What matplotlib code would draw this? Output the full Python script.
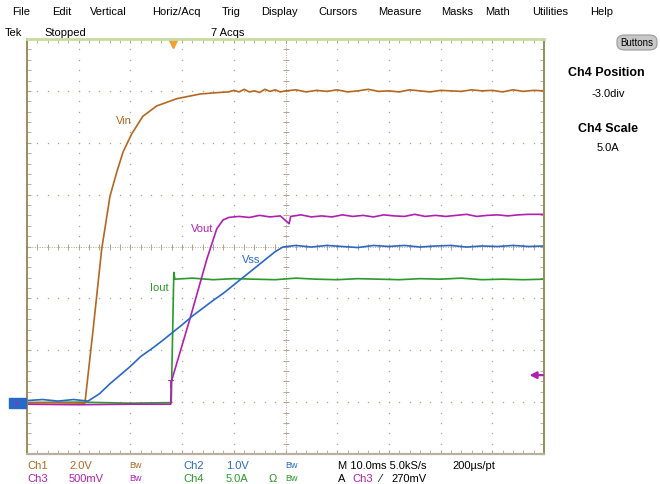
import numpy as np
import matplotlib.pyplot as plt
from matplotlib.patches import Rectangle, FancyBboxPatch

plt.rcParams['font.family'] = ['Liberation Sans', 'DejaVu Sans']

# ---- trace data, in screen divisions (x: 0..10, y: 0..8) ----
vin_x = [0, 0.5, 1.12, 1.28, 1.445, 1.605, 1.735, 1.857, 2.025, 2.24, 2.51, 2.9, 3.35, 3.73,
         3.9, 4.0, 4.1, 4.2, 4.3, 4.4, 4.5, 4.6, 4.7, 4.8, 4.9, 5.0, 5.2, 5.4, 5.6, 5.8, 6.0,
         6.2, 6.4, 6.6, 6.8, 7.0, 7.2, 7.4, 7.6, 7.8, 8.0, 8.2, 8.4, 8.6, 8.8, 9.0, 9.2, 9.4,
         9.6, 9.8, 10.0]
vin_y = [0.99, 0.99, 0.98, 2.41, 3.95, 4.97, 5.43, 5.82, 6.17, 6.51, 6.71, 6.85, 6.94, 6.97,
         6.98, 7.01, 6.98, 7.03, 6.98, 7.0, 6.97, 7.03, 6.99, 7.02, 6.98, 7.0, 7.02, 6.98,
         7.01, 6.99, 7.02, 6.98, 7.0, 7.03, 6.99, 7.0, 6.98, 7.02, 7.0, 6.98, 7.01, 7.0,
         6.99, 7.02, 7.0, 7.01, 6.98, 7.02, 6.99, 7.01, 7.0]

vss_x = [0, 0.3, 0.6, 0.9, 1.18, 1.4, 1.6, 1.8, 2.0, 2.2, 2.4, 2.6, 2.8, 3.0, 3.2, 3.4, 3.6,
         3.8, 4.0, 4.2, 4.4, 4.6, 4.8, 4.95, 5.2, 5.5, 5.8, 6.1, 6.4, 6.7, 7.0, 7.3, 7.6, 7.9,
         8.2, 8.5, 8.8, 9.1, 9.4, 9.7, 10.0]
vss_y = [1.03, 1.05, 1.02, 1.05, 1.02, 1.16, 1.35, 1.52, 1.69, 1.88, 2.02, 2.17, 2.33, 2.49,
         2.66, 2.81, 2.96, 3.10, 3.26, 3.42, 3.58, 3.74, 3.90, 3.99, 4.02, 3.99, 4.02, 4.0,
         3.98, 4.02, 4.0, 4.02, 3.99, 4.01, 4.02, 3.99, 4.01, 4.0, 4.02, 4.0, 4.01]

vout_x = [0, 1.0, 2.0, 2.78, 2.79, 3.15, 3.48, 3.67, 3.79, 3.9, 4.1, 4.3, 4.5, 4.7, 4.9, 5.07,
          5.1, 5.3, 5.5, 5.7, 5.9, 6.1, 6.3, 6.5, 6.7, 6.9, 7.1, 7.3, 7.5, 7.7, 7.9, 8.1, 8.3,
          8.5, 8.7, 8.9, 9.1, 9.3, 9.5, 9.7, 10.0]
vout_y = [0.96, 0.95, 0.96, 0.96, 1.39, 2.6, 3.76, 4.34, 4.51, 4.56, 4.58, 4.56, 4.6, 4.57,
          4.59, 4.44, 4.58, 4.61, 4.57, 4.59, 4.57, 4.61, 4.58, 4.6, 4.57, 4.61, 4.59, 4.58,
          4.62, 4.58, 4.6, 4.58, 4.6, 4.62, 4.58, 4.6, 4.61, 4.59, 4.61, 4.62, 4.62]

iout_x = [0, 1.0, 2.0, 2.79, 2.84, 2.86, 3.2, 3.6, 4.0, 4.4, 4.8, 5.2, 5.6, 6.0, 6.4, 6.8,
          7.2, 7.6, 8.0, 8.4, 8.8, 9.2, 9.6, 10.0]
iout_y = [0.99, 1.0, 0.98, 0.99, 3.5, 3.37, 3.39, 3.36, 3.38, 3.37, 3.36, 3.39, 3.37, 3.36,
          3.38, 3.37, 3.36, 3.38, 3.37, 3.39, 3.36, 3.37, 3.36, 3.37]

c1, c2, c3, c4 = '#b5661f', '#2a68c8', '#b020b0', '#2a9a2a'
grid_c = '#b0a68e'

fig = plt.figure(figsize=(6.6, 4.85), dpi=100)
ax = fig.add_axes([27 / 660, 30 / 485, 517 / 660, 415 / 485])
ax.set_xlim(0, 10)
ax.set_ylim(0, 8)

# graticule: dotted major lines, minor ticks on the frame
gx, gy = np.meshgrid(np.arange(1, 10), np.arange(0, 8.01, 0.2))
ax.plot(gx.ravel(), gy.ravel(), 's', ms=0.9, color=grid_c, mec='none')
hy, hx = np.meshgrid(np.arange(1, 8), np.arange(0, 10.01, 0.2))
ax.plot(hx.ravel(), hy.ravel(), 's', ms=0.9, color=grid_c, mec='none')
ax.plot([5, 5], [0, 8], color=grid_c, lw=0.7, ls=(0, (1, 1.5)))
ax.plot([0, 10], [4, 4], color=grid_c, lw=0.7, ls=(0, (1, 1.5)))
ax.plot(np.full(41, 5), np.arange(0, 8.01, 0.2), '_', ms=4, color=grid_c, mew=0.7)
ax.plot(np.arange(0, 10.01, 0.2), np.full(51, 4), '|', ms=4, color=grid_c, mew=0.7)

ax.set_xticks(np.arange(0, 11))
ax.set_yticks(np.arange(0, 9))
ax.set_xticks(np.arange(0, 10.01, 0.2), minor=True)
ax.set_yticks(np.arange(0, 8.01, 0.2), minor=True)
ax.tick_params(which='both', direction='in', top=True, right=True, length=3,
               color=grid_c, labelbottom=False, labelleft=False)

for s, col, lw in [('left', '#9c8a5c', 1.4), ('right', '#9c8a5c', 1.4),
                   ('top', '#c8dca0', 2.0), ('bottom', '#b8b0a0', 1.6)]:
    ax.spines[s].set_color(col)
    ax.spines[s].set_linewidth(lw)

# traces
ax.plot(iout_x, iout_y, color=c4, lw=1.2)
ax.plot(vout_x, vout_y, color=c3, lw=1.2)
ax.plot(vin_x, vin_y, color=c1, lw=1.2)
ax.plot(vss_x, vss_y, color=c2, lw=1.2)

ax.text(1.88, 6.44, 'Vin', color=c1, fontsize=8, ha='center', va='center')
ax.text(3.38, 4.35, 'Vout', color=c3, fontsize=8, ha='center', va='center')
ax.text(4.33, 3.76, 'Vss', color=c2, fontsize=8, ha='center', va='center')
ax.text(2.55, 3.22, 'Iout', color=c4, fontsize=8, ha='center', va='center')

# trigger markers
ax.text(2.78, 1.35, 'T', color=c3, fontsize=7, fontweight='bold', ha='center', va='center')
ax.plot([2.82], [7.9], 'v', color='#f0a030', ms=6, clip_on=False)
ax.annotate('', xy=(9.72, 1.52), xytext=(9.98, 1.52),
            arrowprops=dict(arrowstyle='-|>', color=c3, lw=1.6, mutation_scale=10,
                            shrinkA=0, shrinkB=0))

# ground reference markers on the left
fig.patches.append(Rectangle((9 / 660, 1 - 409 / 485), 17 / 660, 10 / 485,
                             transform=fig.transFigure, color=c2))
fig.text(16 / 660, 1 - 405 / 485, '3', color=c3, fontsize=5, ha='center', va='center')

# menu bar
menu = ['File', 'Edit', 'Vertical', 'Horiz/Acq', 'Trig', 'Display', 'Cursors',
        'Measure', 'Masks', 'Math', 'Utilities', 'Help']
menu_px = [12, 52, 90, 152, 222, 261, 318, 378, 441, 485, 532, 590]
for t, px in zip(menu, menu_px):
    fig.text(px / 660, 1 - 12 / 485, t, fontsize=8, va='center')

fig.text(5 / 660, 1 - 33 / 485, 'Tek', fontsize=8, va='center')
fig.text(44 / 660, 1 - 33 / 485, 'Stopped', fontsize=8, va='center')
fig.text(211 / 660, 1 - 33 / 485, '7 Acqs', fontsize=8, va='center')

# right panel
fig.patches.append(FancyBboxPatch((617 / 660, 1 - 51 / 485), 40 / 660, 15 / 485,
                                  boxstyle='round,pad=0,rounding_size=0.012',
                                  transform=fig.transFigure, fc='#c8c8c8', ec='#9a9a9a', lw=0.8))
fig.text(637 / 660, 1 - 43 / 485, 'Buttons', fontsize=7, ha='center', va='center')
fig.text(606 / 660, 1 - 73 / 485, 'Ch4 Position', fontsize=9, fontweight='bold', ha='center', va='center')
fig.text(608 / 660, 1 - 94 / 485, '-3.0div', fontsize=8, ha='center', va='center')
fig.text(608 / 660, 1 - 129 / 485, 'Ch4 Scale', fontsize=9, fontweight='bold', ha='center', va='center')
fig.text(608 / 660, 1 - 148 / 485, '5.0A', fontsize=8, ha='center', va='center')

# status rows
row1 = [('Ch1', 27, c1), ('2.0V', 69, c1), ('Bw', 129, c1), ('Ch2', 183, c2), ('1.0V', 226, c2),
        ('Bw', 285, c2), ('M 10.0ms 5.0kS/s', 338, 'black'), ('200µs/pt', 452, 'black')]
row2 = [('Ch3', 27, c3), ('500mV', 69, c3), ('Bw', 129, c3), ('Ch4', 183, c4), ('5.0A', 226, c4),
        ('Ω', 269, c4), ('Bw', 285, c4), ('A', 338, 'black'), ('Ch3', 352, c3),
        ('⁄', 379, 'black'), ('270mV', 391, 'black')]
for t, px, col in row1:
    fig.text(px / 660, 1 - 466 / 485, t, fontsize=8 if t != 'Bw' else 6.5, color=col, va='center')
for t, px, col in row2:
    fig.text(px / 660, 1 - 479 / 485, t, fontsize=8 if t != 'Bw' else 6.5, color=col, va='center')

fig.savefig('out.png', dpi=100)
